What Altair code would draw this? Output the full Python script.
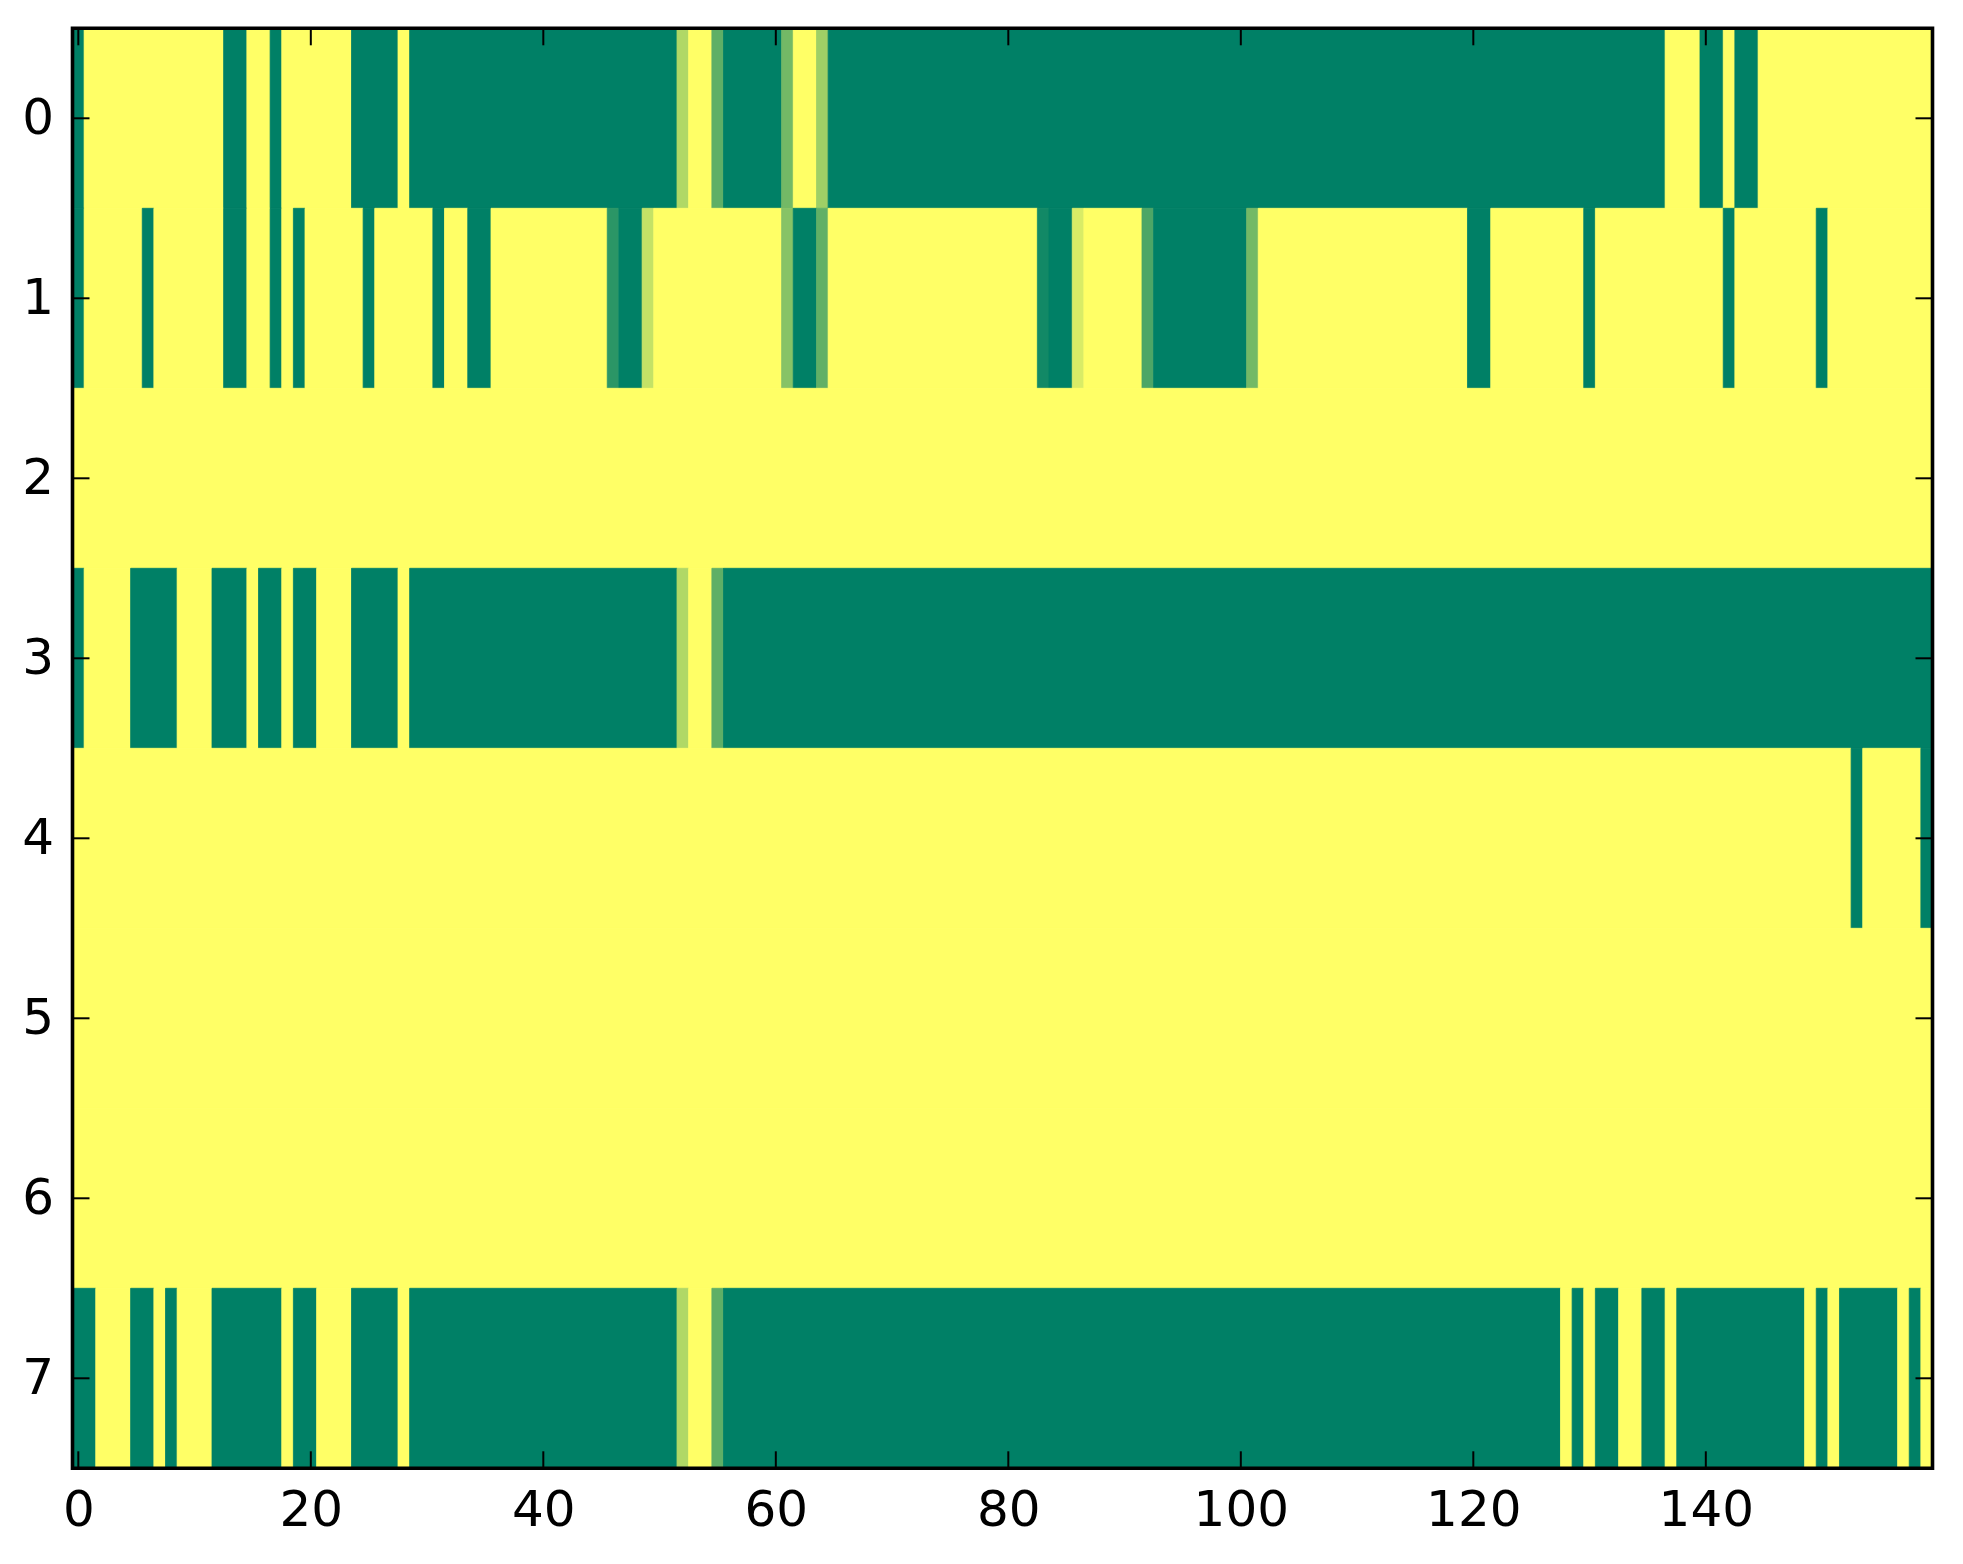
import altair as alt
import pandas as pd

# Run-length rows: (value, number of consecutive columns), 160 columns each
ROW0 = [(0, 1), (1, 12), (0, 2), (1, 2), (0, 1), (1, 6), (0, 4), (1, 1), (0, 23),
        (0.69, 1), (1, 2), (0.37, 1), (0, 5), (0.45, 1), (1, 2), (0.62, 1), (0, 72),
        (1, 3), (0, 2), (1, 1), (0, 2), (1, 15)]
ROW1 = [(0, 1), (1, 5), (0, 1), (1, 6), (0, 2), (1, 2), (0, 1), (1, 1), (0, 1), (1, 5),
        (0, 1), (1, 5), (0, 1), (1, 2), (0, 2), (1, 10), (0.17, 1), (0, 2), (0.77, 1),
        (1, 11), (0.53, 1), (0, 2), (0.38, 1), (1, 18), (0.07, 1), (0, 2), (0.85, 1),
        (1, 5), (0.30, 1), (0, 8), (0.45, 1), (1, 18), (0, 2), (1, 8), (0, 1), (1, 11),
        (0, 1), (1, 7), (0, 1), (1, 9)]
ROW2 = [(1, 160)]
ROW3 = [(0, 1), (1, 4), (0, 4), (1, 3), (0, 3), (1, 1), (0, 2), (1, 1), (0, 2), (1, 3),
        (0, 4), (1, 1), (0, 23), (0.69, 1), (1, 2), (0.37, 1), (0, 104)]
ROW4 = [(1, 153), (0, 1), (1, 5), (0, 1)]
ROW5 = [(1, 160)]
ROW6 = [(1, 160)]
ROW7 = [(0, 2), (1, 3), (0, 2), (1, 1), (0, 1), (1, 3), (0, 6), (1, 1), (0, 2), (1, 3),
        (0, 4), (1, 1), (0, 23), (0.69, 1), (1, 2), (0.37, 1), (0, 72), (1, 1), (0, 1),
        (1, 1), (0, 2), (1, 2), (0, 2), (1, 1), (0, 11), (1, 1), (0, 1), (1, 1), (0, 5),
        (1, 1), (0, 1), (1, 1)]

ROWS = [ROW0, ROW1, ROW2, ROW3, ROW4, ROW5, ROW6, ROW7]
X_TICKS = [0, 20, 40, 60, 80, 100, 120, 140]
Y_TICKS = [0, 1, 2, 3, 4, 5, 6, 7]
N_COLS = 160

# one rect per run of equal cells (cell edges at col +/- 0.5)
records = []
for r, runs in enumerate(ROWS):
    c = 0
    for v, n in runs:
        records.append({"row": r, "v": v, "x0": c - 0.5, "x1": c + n - 0.5,
                        "y0": r - 0.5, "y1": r + 0.5})
        c += n
df = pd.DataFrame(records)

W, H = 1860, 1440
TICK = 17
FONT = "DejaVu Sans"
FS = 50

xs = alt.Scale(domain=[-0.5, N_COLS - 0.5], nice=False, zero=False)
ys = alt.Scale(domain=[-0.5, len(ROWS) - 0.5], nice=False, zero=False, reverse=True)
cs = alt.Scale(domain=[0, 1], range=["#008066", "#ffff66"], interpolate="rgb")

xaxis = alt.Axis(values=X_TICKS, labelFont=FONT, labelFontSize=FS, labelColor="black",
                 ticks=False, tickSize=0, domain=False, grid=False, labelPadding=17,
                 title=None, labelFlush=False, labelOverlap=False)
yaxis = alt.Axis(values=Y_TICKS, labelFont=FONT, labelFontSize=FS, labelColor="black",
                 ticks=False, tickSize=0, domain=False, grid=False, labelPadding=19,
                 title=None, labelFlush=False, labelOverlap=False)

heat = alt.Chart(df).mark_rect(strokeWidth=0.8).encode(
    x=alt.X("x0:Q", scale=xs, axis=xaxis),
    x2="x1:Q",
    y=alt.Y("y0:Q", scale=ys, axis=yaxis),
    y2="y1:Q",
    color=alt.Color("v:Q", scale=cs, legend=None),
    stroke=alt.Stroke("v:Q", scale=cs, legend=None),
)

xt = pd.DataFrame({"t": X_TICKS})
yt = pd.DataFrame({"t": Y_TICKS})
rule_style = dict(color="black", strokeWidth=2)

top = alt.Chart(xt).mark_rule(**rule_style).encode(
    x=alt.X("t:Q", scale=xs, axis=xaxis), y=alt.value(0), y2=alt.value(TICK))
bottom = alt.Chart(xt).mark_rule(**rule_style).encode(
    x=alt.X("t:Q", scale=xs, axis=xaxis), y=alt.value(H - TICK), y2=alt.value(H))
left = alt.Chart(yt).mark_rule(**rule_style).encode(
    y=alt.Y("t:Q", scale=ys, axis=yaxis), x=alt.value(0), x2=alt.value(TICK))
right = alt.Chart(yt).mark_rule(**rule_style).encode(
    y=alt.Y("t:Q", scale=ys, axis=yaxis), x=alt.value(W - TICK), x2=alt.value(W))

frame = alt.Chart(pd.DataFrame({"a": [0]})).mark_rect(
    fillOpacity=0, stroke="black", strokeWidth=3.6).encode(
    x=alt.value(0), x2=alt.value(W), y=alt.value(0), y2=alt.value(H))

chart = alt.layer(heat, top, bottom, left, right, frame).properties(
    width=W, height=H,
    padding={"left": 64.5, "top": 20.3, "right": 20, "bottom": 80},
    autosize=alt.AutoSizeParams(type="none"),
).configure_view(strokeWidth=0)

chart.save("out.html", embed_options={"renderer": "svg", "actions": False})
